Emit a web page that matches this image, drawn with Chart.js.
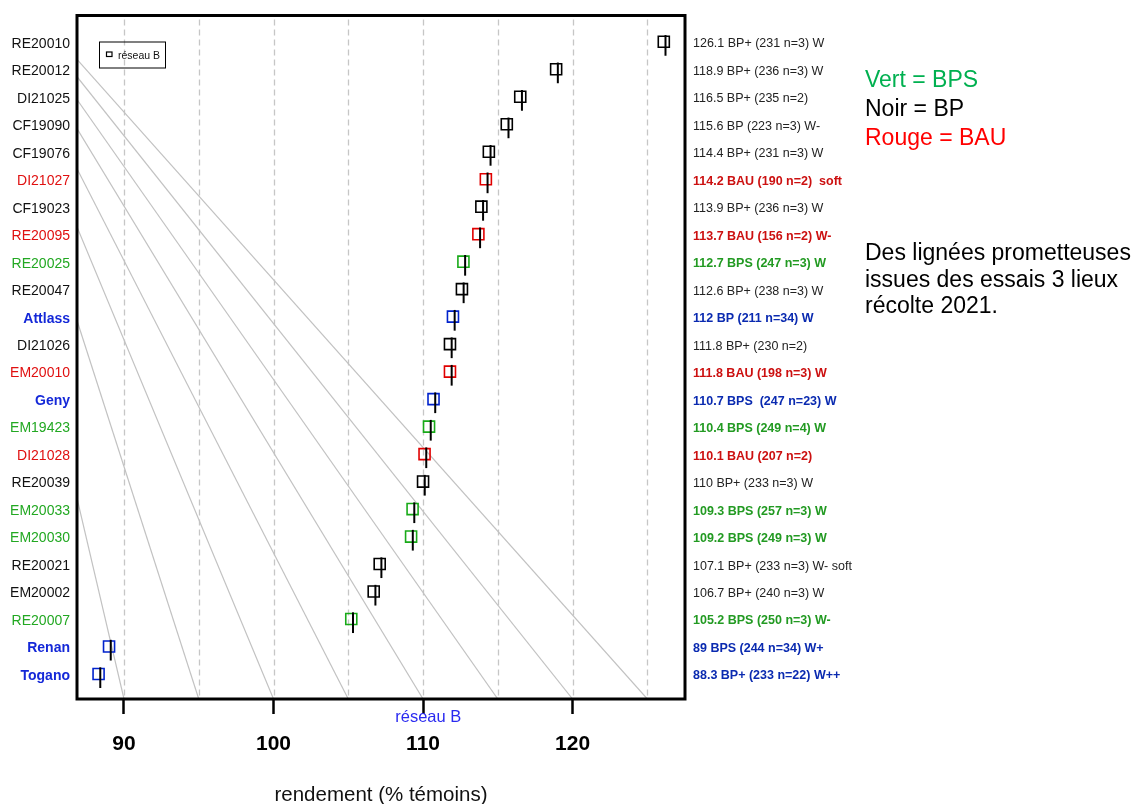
<!DOCTYPE html>
<html><head><meta charset="utf-8">
<script src="https://cdn.jsdelivr.net/npm/chart.js@4.4.1/dist/chart.umd.min.js"></script>
<style>html,body{margin:0;padding:0;background:#fff}canvas{display:block}</style>
</head><body>
<canvas id="c" width="1137" height="804"></canvas>
<script>
// ---- data ----
const categories = ['RE20010','RE20012','DI21025','CF19090','CF19076','DI21027','CF19023','RE20095','RE20025','RE20047','Attlass','DI21026','EM20010','Geny','EM19423','DI21028','RE20039','EM20033','EM20030','RE20021','EM20002','RE20007','Renan','Togano'];
const values = [126.1,118.9,116.5,115.6,114.4,114.2,113.9,113.7,112.7,112.6,112,111.8,111.8,110.7,110.4,110.1,110,109.3,109.2,107.1,106.7,105.2,89,88.3];
const groups = ['BP','BP','BP','BP','BP','BAU','BP','BAU','BPS','BP','TEM','BP','BAU','TEM','BPS','BAU','BP','BPS','BPS','BP','BP','BPS','TEM','TEM'];
const rightLabels = [
 '126.1 BP+ (231 n=3) W','118.9 BP+ (236 n=3) W','116.5 BP+ (235 n=2)','115.6 BP (223 n=3) W-',
 '114.4 BP+ (231 n=3) W','114.2 BAU (190 n=2)  soft','113.9 BP+ (236 n=3) W','113.7 BAU (156 n=2) W-',
 '112.7 BPS (247 n=3) W','112.6 BP+ (238 n=3) W','112 BP (211 n=34) W','111.8 BP+ (230 n=2)',
 '111.8 BAU (198 n=3) W','110.7 BPS  (247 n=23) W','110.4 BPS (249 n=4) W','110.1 BAU (207 n=2)',
 '110 BP+ (233 n=3) W','109.3 BPS (257 n=3) W','109.2 BPS (249 n=3) W','107.1 BP+ (233 n=3) W- soft',
 '106.7 BP+ (240 n=3) W','105.2 BPS (250 n=3) W-','89 BPS (244 n=34) W+','88.3 BP+ (233 n=22) W++'];
const xTickValues = [90,100,110,120];
const gridValues = [90,95,100,105,110,115,120,125];
const isoBottomX = [90,95,100,105,110,115,120,125];
const isoLeftRow = [16.6,10.14,6.74,4.62,3.16,2.1,1.27,0.64];
const legendText = 'réseau B';
const sideKey = [['Vert = BPS','#00b050'],['Noir = BP','#000000'],['Rouge = BAU','#ff0000']];
const sideNote = ['Des lignées prometteuses','issues des essais 3 lieux','récolte 2021.'];

// ---- styles ----
const FONT = "'Liberation Sans', Arial, sans-serif";
const X_MIN = 86.857, X_MAX = 127.518, Y_MIN = -0.955, Y_MAX = 23.909;
const leftColor = {BP:'#111111', BAU:'#e01010', BPS:'#22a822', TEM:'#1428d8'};
const rightColor = {BP:'#222222', BAU:'#cc1010', BPS:'#229a22', TEM:'#0a2ab0'};
const markColor = {BP:'#000000', BAU:'#e00000', BPS:'#18aa18', TEM:'#0022cc'};

const isoSets = isoBottomX.map((bx, i) => ({
  type:'line',
  data:[{x:X_MIN, y:isoLeftRow[i]}, {x:bx, y:Y_MAX}],
  borderColor:'#c2c2c2', borderWidth:1.2, pointRadius:0, fill:false, order:2
}));

const markerSet = {
  type:'scatter',
  data: values.map((v,i)=>({x:v, y:i})),
  pointStyle:'rect', pointRadius:7.8, pointHoverRadius:7.8,
  pointBorderWidth:1.6, pointBackgroundColor:'rgba(0,0,0,0)',
  pointBorderColor: groups.map(g=>markColor[g]), order:1
};

const decor = {
  id:'decor',
  beforeDatasetsDraw(chart){
    const {ctx, chartArea:a, scales:{x}} = chart;
    ctx.save();
    ctx.strokeStyle='#c6c6c6'; ctx.lineWidth=1.3; ctx.setLineDash([6,4]);
    gridValues.forEach(v=>{
      const px = Math.round(x.getPixelForValue(v))+0.5;
      ctx.beginPath(); ctx.moveTo(px,a.top+4); ctx.lineTo(px,a.bottom); ctx.stroke();
    });
    ctx.restore();
  },
  afterDatasetsDraw(chart){
    const {ctx} = chart;
    const meta = chart.getDatasetMeta(chart.data.datasets.length-1);
    ctx.save();
    ctx.strokeStyle='#000'; ctx.lineWidth=2;
    meta.data.forEach(pt=>{
      ctx.beginPath(); ctx.moveTo(pt.x+1.7, pt.y-6.7); ctx.lineTo(pt.x+1.7, pt.y+14); ctx.stroke();
    });
    ctx.restore();
  },
  afterDraw(chart){
    const {ctx, chartArea:a, scales:{x}} = chart;
    ctx.save();
    // frame
    ctx.strokeStyle='#000'; ctx.lineWidth=3;
    ctx.strokeRect(a.left, a.top, a.right-a.left, a.bottom-a.top);
    // legend box
    const lx=a.left+22.5, ly=a.top+26.5;
    ctx.lineWidth=1; ctx.strokeRect(lx, ly, 66, 26);
    ctx.lineWidth=1.2; ctx.strokeRect(lx+7, ly+10, 5.5, 4.5);
    ctx.fillStyle='#111'; ctx.font='10.5px '+FONT; ctx.textAlign='left'; ctx.textBaseline='middle';
    ctx.fillText(legendText, lx+18.5, ly+14);
    // network label under axis
    ctx.fillStyle='#2a2af0'; ctx.font='16.5px '+FONT; ctx.textAlign='center';
    ctx.fillText(legendText, x.getPixelForValue(110.35), a.bottom+18);
    // side notes
    ctx.textAlign='left'; ctx.textBaseline='alphabetic'; ctx.font='23px '+FONT;
    sideKey.forEach((s,i)=>{ ctx.fillStyle=s[1]; ctx.fillText(s[0], 865, 87.3+28.8*i); });
    ctx.fillStyle='#000';
    sideNote.forEach((s,i)=>{ ctx.fillText(s, 865, 260+26.7*i); });
    ctx.restore();
  }
};

const rowTicks = (scale)=>{ scale.ticks = categories.map((_,i)=>({value:i})); };

new Chart(document.getElementById('c'), {
  data:{ datasets:[...isoSets, markerSet] },
  options:{
    responsive:false, animation:false, events:[],
    layout:{padding:{top:14,left:0,right:0,bottom:0}},
    plugins:{legend:{display:false}, tooltip:{enabled:false}},
    scales:{
      x:{
        type:'linear', position:'bottom', min:X_MIN, max:X_MAX,
        afterBuildTicks:(s)=>{ s.ticks = xTickValues.map(v=>({value:v})); },
        afterFit:(s)=>{ s.height = 105; },
        grid:{display:true, drawOnChartArea:false, drawTicks:true, tickLength:15, tickWidth:2.5, tickColor:'#000'},
        border:{display:false},
        ticks:{color:'#000', font:{family:FONT, size:21, weight:'bold'}, padding:18, autoSkip:false, maxRotation:0},
        title:{display:true, text:'rendement (% témoins)', color:'#111', font:{family:FONT, size:20.5}, padding:{top:0,bottom:-4}}
      },
      y:{
        type:'linear', position:'left', reverse:true, min:Y_MIN, max:Y_MAX,
        afterBuildTicks:rowTicks,
        afterFit:(s)=>{ s.width = 77; },
        grid:{display:false, drawTicks:false}, border:{display:false},
        ticks:{
          autoSkip:false, padding:7, labelOffset:2,
          callback:(v)=>categories[v],
          color:(c)=> c.tick ? leftColor[groups[c.tick.value]] : '#000',
          font:(c)=>({family:FONT, size:14, weight:(c.tick && groups[c.tick.value]==='TEM') ? 'bold':'normal'})
        }
      },
      y2:{
        type:'linear', position:'right', reverse:true, min:Y_MIN, max:Y_MAX,
        afterBuildTicks:rowTicks,
        afterFit:(s)=>{ s.width = 1137-685; },
        grid:{display:false, drawTicks:false}, border:{display:false},
        ticks:{
          autoSkip:false, padding:8, labelOffset:2,
          callback:(v)=>rightLabels[v],
          color:(c)=> c.tick ? rightColor[groups[c.tick.value]] : '#000',
          font:(c)=>({family:FONT, size:12.5, weight:(c.tick && groups[c.tick.value]!=='BP') ? 'bold':'normal'})
        }
      }
    }
  },
  plugins:[decor]
});
</script>
</body></html>
